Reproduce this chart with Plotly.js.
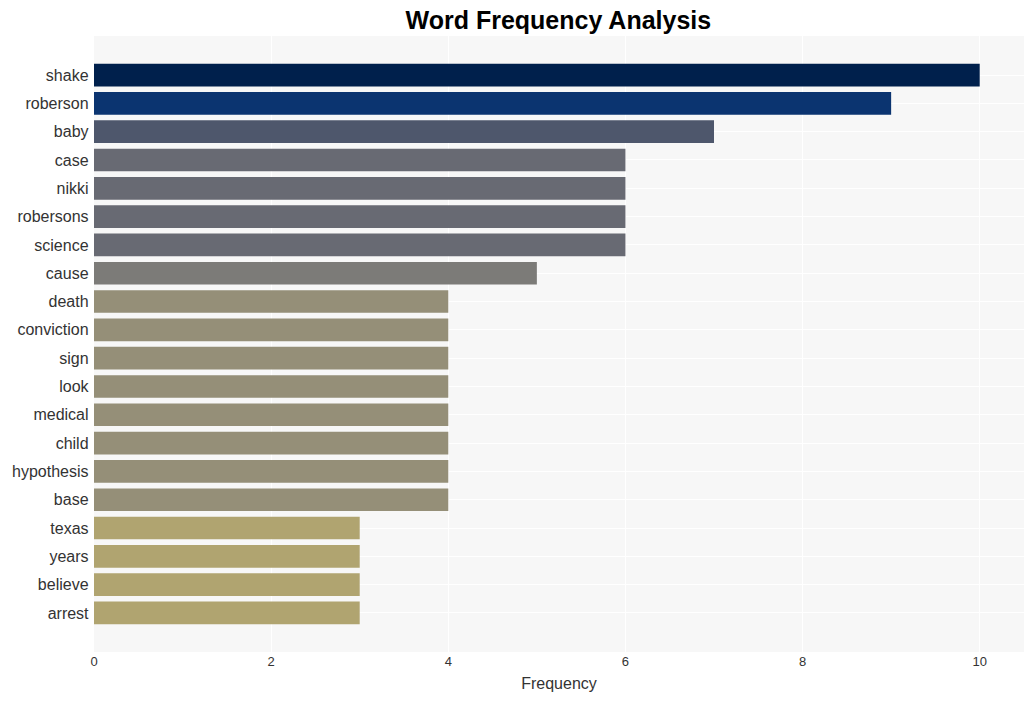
<!DOCTYPE html>
<html>
<head>
<meta charset="utf-8">
<script src="https://cdn.plot.ly/plotly-3.0.1.min.js"></script>
<style>html,body{margin:0;padding:0;background:#fff;}#chart{width:1034px;height:701px;}</style>
</head>
<body>
<div id="chart"></div>
<script>
const words = ["shake","roberson","baby","case","nikki","robersons","science","cause","death","conviction","sign","look","medical","child","hypothesis","base","texas","years","believe","arrest"];
const counts = [10,9,7,6,6,6,6,5,4,4,4,4,4,4,4,4,3,3,3,3];
const barColors = ["#00204c","#0b3470","#4e576c","#686a73","#686a73","#686a73","#686a73","#7c7b78","#958f78","#958f78","#958f78","#958f78","#958f78","#958f78","#958f78","#958f78","#b0a470","#b0a470","#b0a470","#b0a470"];

const trace = {
  type: "bar",
  orientation: "h",
  x: counts,
  y: words,
  marker: {color: barColors},
  hoverinfo: "x+y"
};

const layout = {
  width: 1034,
  height: 701,
  margin: {l: 94, r: 10, t: 36, b: 49},
  paper_bgcolor: "#ffffff",
  plot_bgcolor: "#f7f7f7",
  bargap: 0.2,
  title: {text: "<b>Word Frequency Analysis</b>", x: 0.54, xanchor: "center", y: 0.9715, yanchor: "middle", font: {family: "Liberation Sans, Arial, sans-serif", size: 25, color: "#000"}},
  xaxis: {
    range: [0, 10.5],
    dtick: 2,
    gridcolor: "#ffffff",
    zeroline: false,
    tickfont: {family: "Liberation Sans, Arial, sans-serif", size: 13, color: "#333"},
    title: {text: "Frequency", font: {family: "Liberation Sans, Arial, sans-serif", size: 16, color: "#333"}, standoff: 9}
  },
  yaxis: {
    type: "category",
    range: [20.38, -1.38],
    gridcolor: "#ffffff",
    tickfont: {family: "Liberation Sans, Arial, sans-serif", size: 16, color: "#333"},
    ticksuffix: " ",
    automargin: false
  },
  showlegend: false
};

Plotly.newPlot("chart", [trace], layout, {displayModeBar: false, staticPlot: true});
</script>
</body>
</html>
